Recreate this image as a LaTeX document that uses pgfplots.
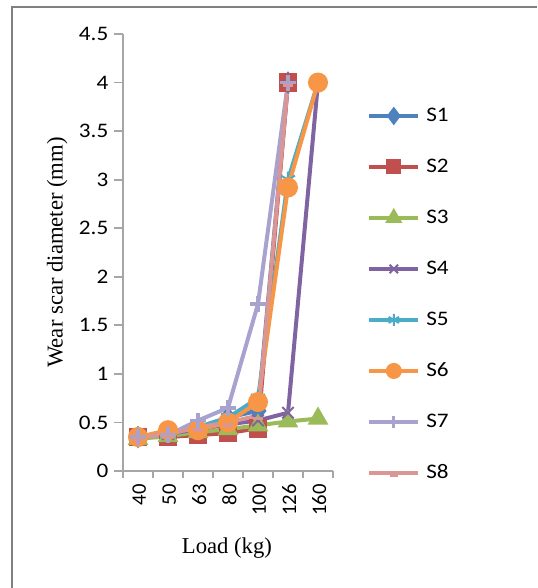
\documentclass[border=0pt]{standalone}
\usepackage{fontspec}
\setmainfont{Liberation Serif}
\newfontfamily\calw[FakeStretch=1.12]{Carlito}
\newfontfamily\calf{Carlito}
\usepackage{pgfplots}
\pgfplotsset{compat=1.18}
\definecolor{c1}{HTML}{4F81BD}
\definecolor{c2}{HTML}{C0504D}
\definecolor{c3}{HTML}{9BBB59}
\definecolor{c4}{HTML}{8064A2}
\definecolor{c5}{HTML}{4BACC6}
\definecolor{c6}{HTML}{F79646}
\definecolor{c7}{HTML}{A8A2CF}
\definecolor{c8}{HTML}{D99694}
\definecolor{axgray}{HTML}{A6A6A6}
\begin{document}
\begin{tikzpicture}
\path[use as bounding box] (0,0) rectangle (402.75pt,441pt);
\draw[gray, line width=1.3pt] (9pt,0) -- (9pt,435.75pt) -- (402.75pt,435.75pt);
\begin{axis}[
  at={(92.25pt,87.75pt)}, anchor=south west,
  width=157.5pt, height=327.75pt, scale only axis,
  xmin=-0.5, xmax=6.5, ymin=0, ymax=4.5,
  xtick={0,...,6}, xticklabels={40,50,63,80,100,126,160},
  ytick={0,0.5,1,1.5,2,2.5,3,3.5,4,4.5},
  minor xtick={-0.5,0.5,1.5,2.5,3.5,4.5,5.5,6.5},
  axis lines=left, axis line style={-, draw=axgray, line width=1.5pt},
  tick align=outside,
  xtick style={draw=none},
  minor x tick style={draw=axgray, line width=1.3pt},
  ytick style={draw=axgray, line width=1.3pt},
  major tick length=6.5pt, minor tick length=5.5pt,
  /pgf/number format/assume math mode=true,
  yticklabel style={font=\calw\fontsize{15.5}{18}\selectfont, anchor=east, xshift=-1pt},
  xticklabel style={font=\calf\fontsize{15.5}{18}\selectfont, rotate=90, anchor=east, yshift=-1pt},
  xlabel={Load (kg)},
  ylabel={Wear scar diameter (mm)},
  xlabel style={font=\fontsize{17}{20}\selectfont, at={(axis description cs:0.495,-0.176)}, anchor=center},
  ylabel style={font=\fontsize{17}{20}\selectfont, at={(axis description cs:-0.314,0.5)}, anchor=center},
  legend style={draw=none, fill=none, at={(axis description cs:1.162,0.404)}, anchor=west,
    font=\calw\fontsize{15.5}{18}\selectfont, inner sep=0pt,
    nodes={inner sep=0pt, text height=12pt, text depth=4pt},
    row sep=22.25pt, column sep=4.5pt},
  legend cell align=left,
  legend image code/.code={\draw[mark repeat=2,mark phase=2,#1, every mark/.append style={scale=0.75}] plot coordinates {(0pt,0pt) (18.4pt,0pt) (36.75pt,0pt)};},
  every axis plot/.append style={line width=3pt},
  clip=false,
]
\addplot[c1, mark=diamond*, mark size=6pt, mark options={solid}] coordinates {(0,0.35) (1,0.38) (2,0.45) (3,0.55) (4,0.62) (5,4)};
\addlegendentry{S1}
\addplot[c2, mark=square*, mark size=5.5pt, mark options={solid}] coordinates {(0,0.35) (1,0.35) (2,0.37) (3,0.39) (4,0.44) (5,4)};
\addlegendentry{S2}
\addplot[c3, mark=triangle*, mark size=6pt, mark options={solid}] coordinates {(0,0.33) (1,0.36) (2,0.40) (3,0.43) (4,0.47) (5,0.51) (6,0.54)};
\addlegendentry{S3}
\addplot[c4, mark=x, mark size=6pt, mark options={solid, line width=1.5pt}] coordinates {(0,0.35) (1,0.38) (2,0.43) (3,0.48) (4,0.52) (5,0.60) (6,4)};
\addlegendentry{S4}
\addplot[c5, mark=asterisk, mark size=6pt, mark options={solid, line width=1.5pt}] coordinates {(0,0.35) (1,0.38) (2,0.45) (3,0.55) (4,0.75) (5,3.0) (6,4)};
\addlegendentry{S5}
\addplot[c6, mark=*, mark size=6pt, mark options={solid}] coordinates {(0,0.35) (1,0.42) (2,0.42) (3,0.50) (4,0.71) (5,2.92) (6,4)};
\addlegendentry{S6}
\addplot[c7, mark=+, mark size=6pt, mark options={solid, line width=2.5pt}] coordinates {(0,0.35) (1,0.37) (2,0.52) (3,0.65) (4,1.72) (5,4)};
\addlegendentry{S7}
\addplot[c8, mark=-, mark size=4pt, mark options={solid, line width=2.5pt, yshift=-2pt}] coordinates {(0,0.35) (1,0.38) (2,0.45) (3,0.50) (4,0.57) (5,4)};
\addlegendentry{S8}
\end{axis}
\end{tikzpicture}
\end{document}
